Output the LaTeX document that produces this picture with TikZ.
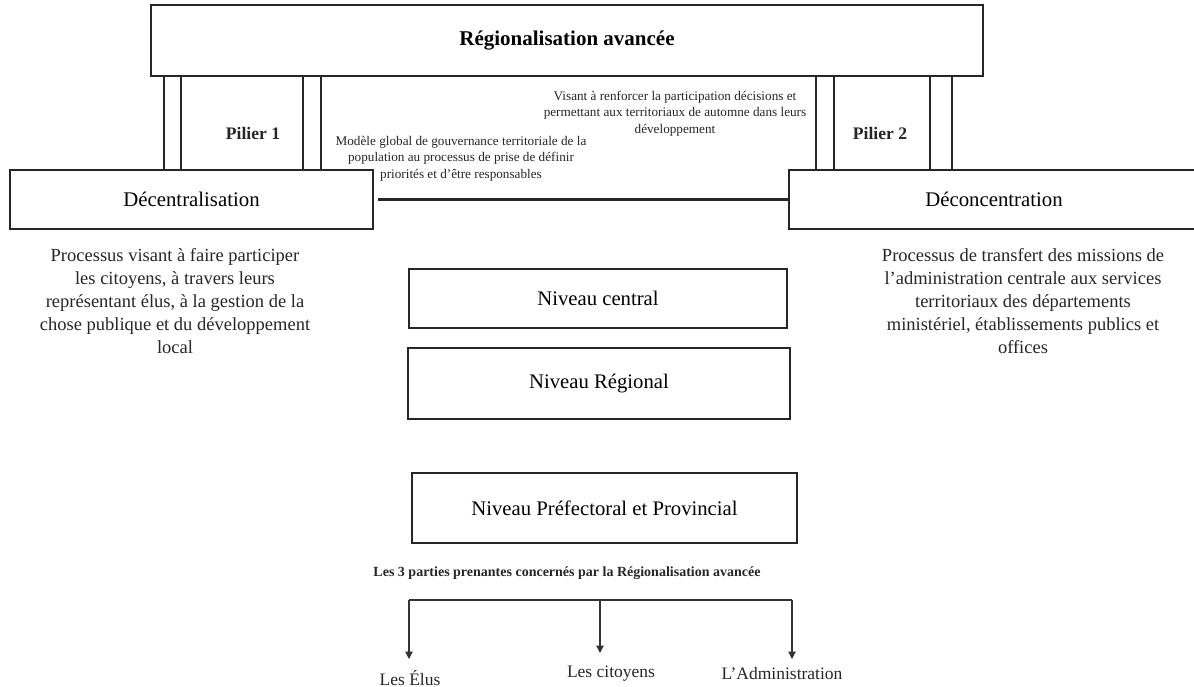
\documentclass[tikz,border=0pt]{standalone}
\usepackage{fontspec}
\setmainfont{Liberation Serif}
\usetikzlibrary{arrows.meta}
\begin{document}
\begin{tikzpicture}[x=1pt,y=-1pt,
  box/.style={draw=black!85, line width=1.3pt, inner sep=0pt, align=center},
  lbl/.style={inner sep=0pt, align=center, text=black!85},
  pil/.style={line width=1.6pt, black!85},
  arr/.style={line width=1.1pt, black!80, -{Triangle[width=7.5pt,length=7.5pt]}}]
\clip (0,0) rectangle (1194,687);
\fill[white] (0,0) rectangle (1194,687);
% top box
\node[box, minimum width=832pt, minimum height=71pt, font=\fontsize{21}{24}\selectfont\bfseries] (top) at (567,40.5)
  {Régionalisation avancée};
% main boxes
\node[box, minimum width=363pt, minimum height=59pt, font=\fontsize{20.8}{24}\selectfont] (dec) at (191.5,199.5)
  {Décentralisation};
\node[box, minimum width=410pt, minimum height=59pt, font=\fontsize{20.8}{24}\selectfont] (deco) at (994,199.5)
  {Déconcentration};
% pillars
\foreach \x in {164,181,303,321,816,834,930,952}
  \draw[pil] (\x,76) -- (\x,170);
\node[lbl, font=\fontsize{17.6}{20}\selectfont\bfseries] (p1) at (253,133) {Pilier 1};
\node[lbl, font=\fontsize{17.6}{20}\selectfont\bfseries] (p2) at (880,133) {Pilier 2};
% connector
\draw[line width=2.3pt, black!85] ([xshift=4pt]dec.east) -- (deco.west);
% small texts
\node[lbl, font=\fontsize{13.2}{16.5}\selectfont] (t1) at (461,158.5) {%
  Modèle global de gouvernance territoriale de la\\
  population au processus de prise de définir\\
  priorités et d’être responsables};
\node[lbl, font=\fontsize{13.2}{16.5}\selectfont] (t2) at (675,113.5) {%
  Visant à renforcer la participation décisions et\\
  permettant aux territoriaux de automne dans leurs\\
  développement};
% descriptions
\node[lbl, font=\fontsize{18.5}{23}\selectfont] (d1) at (175,301) {%
  Processus visant à faire participer\\
  les citoyens, à travers leurs\\
  représentant élus, à la gestion de la\\
  chose publique et du développement\\
  local};
\node[lbl, font=\fontsize{18.5}{23}\selectfont] (d2) at (1023,301) {%
  Processus de transfert des missions de\\
  l’administration centrale aux services\\
  territoriaux des départements\\
  ministériel, établissements publics et\\
  offices};
% levels
\node[box, minimum width=378pt, minimum height=59pt, font=\fontsize{20.7}{24}\selectfont] (nc) at (598,298.5)
  {Niveau central};
\node[box, minimum width=382pt, minimum height=71pt, font=\fontsize{20.7}{24}\selectfont] (nr) at (599,383.5)
  {Niveau Régional};
\node[box, minimum width=385pt, minimum height=70pt, font=\fontsize{20.7}{24}\selectfont] (np) at (604.5,508)
  {Niveau Préfectoral et Provincial};
% stakeholders
\node[lbl, font=\fontsize{14}{17}\selectfont\bfseries] (title) at (567,573)
  {Les 3 parties prenantes concernés par la Régionalisation avancée};
\coordinate (bl) at (409,600);
\coordinate (bm) at (600,600);
\coordinate (br) at (792,600);
\node[lbl, font=\fontsize{17.5}{20}\selectfont] (elus) at (410,678) {Les Élus};
\node[lbl, font=\fontsize{17.5}{20}\selectfont] (cit) at (611,674) {Les citoyens};
\node[lbl, font=\fontsize{17.5}{20}\selectfont] (adm) at (782,674) {L’Administration};
\draw[line width=1.1pt, black!80] (bl) -- (br);
\draw[arr] (bl) -- (409,659);
\draw[arr] (bm) -- (600,653);
\draw[arr] (br) -- (792,659);
\end{tikzpicture}
\end{document}
